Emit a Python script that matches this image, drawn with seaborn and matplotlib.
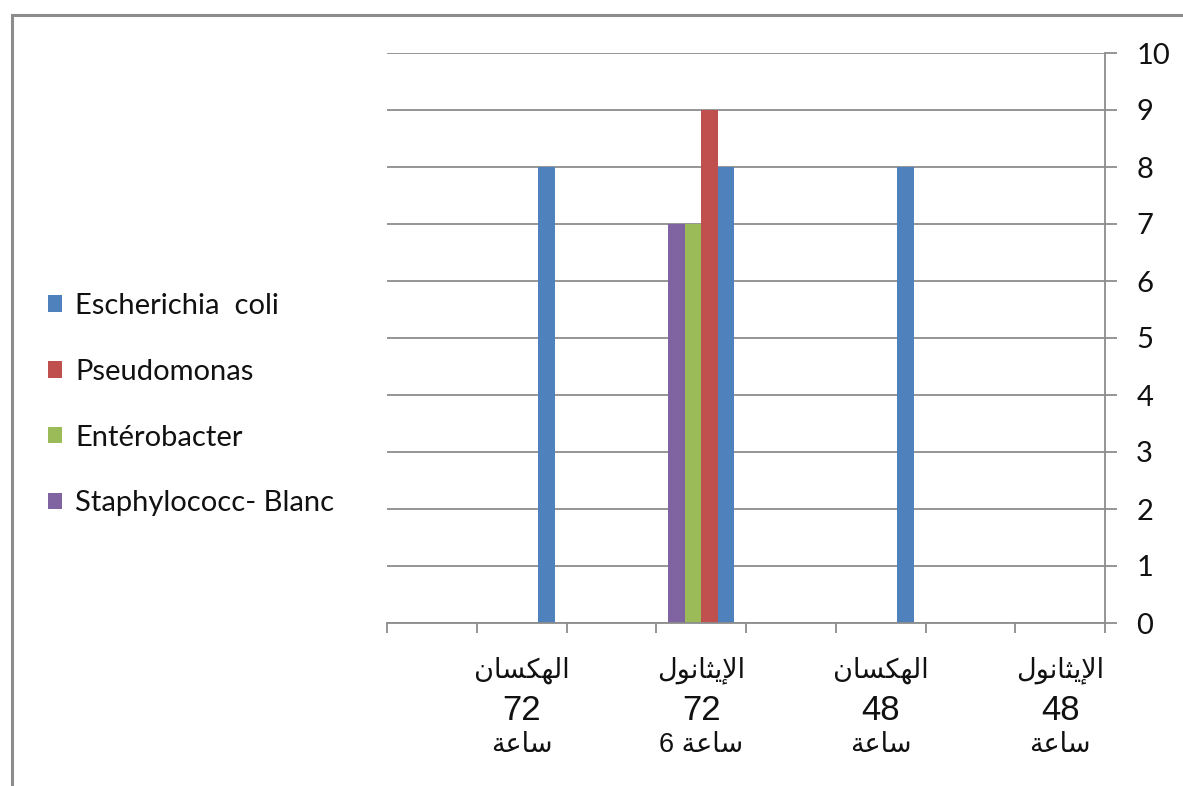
import pandas as pd
import seaborn as sns
import matplotlib.pyplot as plt
from matplotlib.patches import Rectangle

# Arabic words written in presentation forms, visual (left-to-right) order,
# because matplotlib does no Arabic shaping
HEXANE = "\ufee5\ufe8e\ufeb4\ufedc\ufeec\ufedf\ufe8d"            # الهكسان
ETHANOL = "\ufedd\ufeee\ufee7\ufe8e\ufe9c\ufef3\ufef9\ufe8d"     # الإيثانول
HOUR = "\ufe94\ufecb\ufe8e\ufeb3"                                # ساعة

# categories in Excel order (category 1 is drawn on the right, axis reversed);
# every second category has no label shown
solvents = [ETHANOL, "", HEXANE, "", ETHANOL, "", HEXANE, ""]
hours = ["48", "", "48", "", "72", "", "72", ""]
hour_words = [HOUR, "", HOUR, "", "6 " + HOUR, "", HOUR, ""]
categories = [f"c{i + 1}" for i in range(len(solvents))]

series = ["Escherichia  coli", "Pseudomonas", "Entérobacter", "Staphylococc- Blanc"]
ecoli = [0, 0, 8, 0, 8, 0, 8, 0]
pseudomonas = [0, 0, 0, 0, 9, 0, 0, 0]
enterobacter = [0, 0, 0, 0, 7, 0, 0, 0]
staph = [0, 0, 0, 0, 7, 0, 0, 0]
colors = ["#4F81BD", "#C0504D", "#9BBB59", "#8064A2"]

rows = []
for name, vals in zip(series, [ecoli, pseudomonas, enterobacter, staph]):
    for cat, v in zip(categories, vals):
        rows.append({"cat": cat, "bacteria": name, "value": v})
df = pd.DataFrame(rows)

sns.set_style("white")
plt.rcParams["font.family"] = ["Liberation Sans", "DejaVu Sans"]

fig = plt.figure(figsize=(11.83, 7.86), dpi=100)
ax = fig.add_axes([387 / 1183, 1 - 623 / 786, (1105 - 387) / 1183, (623 - 53) / 786])

sns.barplot(data=df, x="cat", y="value", hue="bacteria", order=categories,
            hue_order=series, palette=colors, width=0.733, linewidth=0,
            saturation=1, legend=True, ax=ax)

handles, labels = ax.get_legend_handles_labels()
ax.get_legend().remove()

ax.set_xlim(7.5, -0.5)
ax.set_ylim(0, 10)
ax.set_yticks(range(0, 11))
ax.yaxis.tick_right()
ax.grid(axis="y", color="#8c8c8c", linewidth=1.3)
ax.set_axisbelow(True)
for s in ["top", "left"]:
    ax.spines[s].set_visible(False)
for s in ["right", "bottom"]:
    ax.spines[s].set_color("#8c8c8c")
    ax.spines[s].set_linewidth(1.3)
ax.tick_params(axis="y", which="major", right=True, length=8.5, width=1.3,
               color="#8c8c8c", pad=14, labelsize=21, labelcolor="#111111")
for t in ax.get_yticklabels():
    t.set_family(["Lato", "DejaVu Sans"])

# category boundaries carry the tick marks, labels sit at the centres
ax.set_xticks([i - 0.5 for i in range(len(categories) + 1)])
ax.set_xticklabels([])
ax.tick_params(axis="x", which="major", bottom=True, length=7, width=1.3,
               color="#8c8c8c")
ax.set_xlabel("")
ax.set_ylabel("")

for i in range(len(categories)):
    ax.annotate(solvents[i], (i, -0.083), xycoords=("data", "axes fraction"),
                ha="center", va="center", fontsize=19.5, color="#111111",
                family=["DejaVu Sans"])
    ax.annotate(hours[i], (i, -0.153), xycoords=("data", "axes fraction"),
                ha="center", va="center", fontsize=25, color="#111111")
    ax.annotate(hour_words[i], (i, -0.214), xycoords=("data", "axes fraction"),
                ha="center", va="center", fontsize=19.5, color="#111111",
                family=["Liberation Sans", "DejaVu Sans"])

fig.legend(handles, labels, loc="upper left", bbox_to_anchor=(33 / 1183, 1 - 278 / 786),
           frameon=False, prop={"family": "Lato", "size": 21},
           handlelength=0.5, handleheight=0.5, handletextpad=0.45,
           labelspacing=1.37, borderpad=0, labelcolor="#111111")

fig.patches.append(Rectangle((11.5 / 1183, -0.1), 1.2, 1.1 - 15 / 786,
                             transform=fig.transFigure, fill=False,
                             edgecolor="#8c8c8c", linewidth=2.2))

fig.savefig("out.png", dpi=100)
